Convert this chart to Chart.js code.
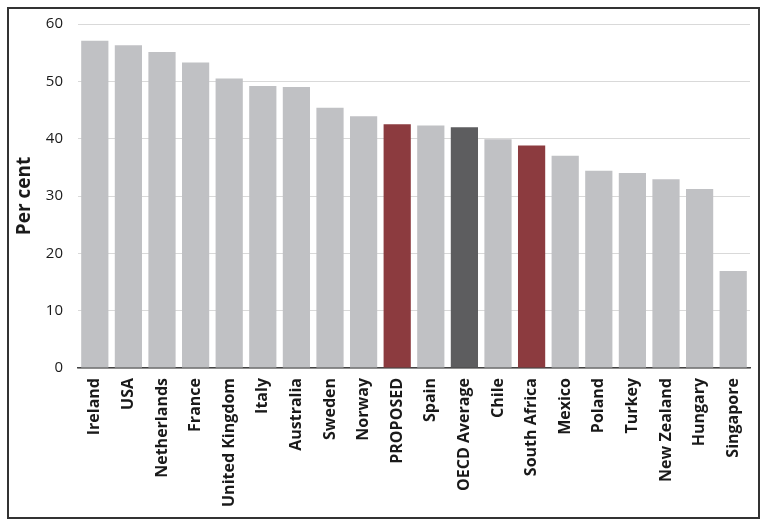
<!DOCTYPE html>
<html>
<head>
<meta charset="utf-8">
<script src="https://cdn.jsdelivr.net/npm/chart.js@4"></script>
<style>
  html, body { margin: 0; padding: 0; background: #ffffff; }
  #frame { position: absolute; left: 7px; top: 7px; width: 749px; height: 508px; border: 2px solid #333333; background: #fff; }
  #wrap { position: absolute; left: 0; top: 0; width: 749px; height: 508px; }
</style>
</head>
<body>
<div id="frame"><div id="wrap"><canvas id="c"></canvas></div></div>
<script>
const categories = ["Ireland", "USA", "Netherlands", "France", "United Kingdom", "Italy", "Australia", "Sweden", "Norway", "PROPOSED", "Spain", "OECD Average", "Chile", "South Africa", "Mexico", "Poland", "Turkey", "New Zealand", "Hungary", "Singapore"];
const values = [57.1, 56.3, 55.1, 53.3, 50.5, 49.2, 49.0, 45.4, 43.9, 42.5, 42.3, 42.0, 39.9, 38.8, 37.0, 34.4, 34.0, 32.9, 31.2, 16.9];
const highlightRed = ["PROPOSED", "South Africa"];
const highlightDark = ["OECD Average"];
const yTicks = [0, 10, 20, 30, 40, 50, 60];

const colors = categories.map(c => highlightRed.includes(c) ? "#8c3b3f" : (highlightDark.includes(c) ? "#5d5d5f" : "#c0c1c4"));

new Chart(document.getElementById("c"), {
  type: "bar",
  data: {
    labels: categories,
    datasets: [{
      data: values,
      backgroundColor: colors,
      borderWidth: 0,
      barPercentage: 0.81,
      categoryPercentage: 1.0
    }]
  },
  options: {
    responsive: true,
    maintainAspectRatio: false,
    animation: false,
    layout: { padding: { top: 15, right: 8, bottom: 0, left: 0 } },
    plugins: { legend: { display: false }, tooltip: { enabled: false } },
    scales: {
      x: {
        grid: { display: false, drawTicks: false },
        border: { display: true, color: "#444444", width: 1.5 },
        ticks: {
          autoSkip: false,
          maxRotation: 90,
          minRotation: 90,
          padding: 10,
          color: "#1a1a1a",
          font: { family: "'Open Sans', sans-serif", size: 16, weight: "bold" }
        },
        afterFit: (s) => { s.height = 149; s.paddingLeft = 0; s.paddingRight = 0; s.paddingTop = 0; s.paddingBottom = 0; }
      },
      y: {
        min: 0,
        max: 60,
        afterBuildTicks: (s) => { s.ticks = yTicks.map(v => ({ value: v })); },
        grid: { color: "#d9d9d9", lineWidth: 1, drawTicks: false },
        border: { display: false },
        ticks: {
          padding: 15,
          color: "#1a1a1a",
          font: { family: "'Open Sans', sans-serif", size: 15 }
        },
        title: {
          display: true,
          text: "Per cent",
          color: "#1a1a1a",
          padding: { top: 4, bottom: 0 },
          font: { family: "'Open Sans', sans-serif", size: 19, weight: "bold" }
        },
        afterFit: (s) => { s.width = 69; s.paddingTop = 0; s.paddingBottom = 0; s.paddingLeft = 0; s.paddingRight = 0; }
      }
    }
  }
});
</script>
</body>
</html>
